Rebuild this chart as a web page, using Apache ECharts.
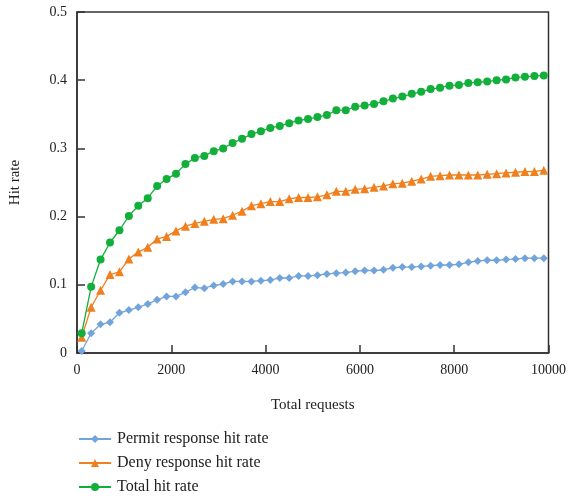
<!DOCTYPE html>
<html>
<head>
<meta charset="utf-8">
<script src="https://cdn.jsdelivr.net/npm/echarts@6/dist/echarts.min.js"></script>
<style>
  html, body { margin: 0; padding: 0; background: #fff; }
  #chart { width: 569px; height: 496px; }
</style>
</head>
<body>
<div id="chart"></div>
<script>
// 请求数（横轴）
var requests = [100, 300, 500, 700, 900, 1100, 1300, 1500, 1700, 1900,
  2100, 2300, 2500, 2700, 2900, 3100, 3300, 3500, 3700, 3900,
  4100, 4300, 4500, 4700, 4900, 5100, 5300, 5500, 5700, 5900,
  6100, 6300, 6500, 6700, 6900, 7100, 7300, 7500, 7700, 7900,
  8100, 8300, 8500, 8700, 8900, 9100, 9300, 9500, 9700, 9900];

var permitRate = [0.003, 0.029, 0.042, 0.045, 0.059, 0.063, 0.067, 0.072, 0.078, 0.083,
  0.083, 0.089, 0.096, 0.095, 0.099, 0.101, 0.105, 0.105, 0.105, 0.106,
  0.107, 0.110, 0.110, 0.113, 0.113, 0.114, 0.116, 0.117, 0.118, 0.120,
  0.121, 0.121, 0.122, 0.125, 0.126, 0.126, 0.127, 0.128, 0.129, 0.129,
  0.130, 0.133, 0.135, 0.136, 0.136, 0.137, 0.138, 0.139, 0.139, 0.139];

var denyRate = [0.023, 0.067, 0.092, 0.115, 0.119, 0.138, 0.148, 0.155, 0.167, 0.171,
  0.179, 0.186, 0.190, 0.193, 0.196, 0.197, 0.202, 0.208, 0.216, 0.219,
  0.222, 0.222, 0.226, 0.228, 0.228, 0.229, 0.232, 0.237, 0.237, 0.240,
  0.241, 0.243, 0.245, 0.248, 0.249, 0.252, 0.255, 0.259, 0.260, 0.261,
  0.261, 0.261, 0.261, 0.262, 0.263, 0.264, 0.265, 0.266, 0.266, 0.268];

var totalRate = [0.029, 0.097, 0.137, 0.162, 0.180, 0.201, 0.216, 0.227, 0.245, 0.255,
  0.263, 0.277, 0.286, 0.289, 0.296, 0.300, 0.308, 0.314, 0.321, 0.325,
  0.330, 0.333, 0.337, 0.341, 0.343, 0.346, 0.349, 0.356, 0.356, 0.361,
  0.363, 0.365, 0.369, 0.373, 0.376, 0.380, 0.383, 0.387, 0.389, 0.392,
  0.393, 0.396, 0.397, 0.398, 0.400, 0.401, 0.404, 0.405, 0.406, 0.407];

var seriesNames = ['Permit response hit rate', 'Deny response hit rate', 'Total hit rate'];

function pairs(ys) {
  return requests.map(function (x, i) { return [x, ys[i]]; });
}

var font = '"Liberation Serif", "DejaVu Serif", serif';
var axisColor = '#333';

var myChart = echarts.init(document.getElementById('chart'));

var option = {
  animation: false,
  textStyle: { fontFamily: font },
  grid: {
    left: 77, right: 12, top: 12, bottom: 143,
    show: true, borderColor: axisColor, borderWidth: 1.5
  },
  legend: {
    orient: 'vertical',
    left: 78,
    top: 431,
    padding: 0,
    itemWidth: 32,
    itemHeight: 10,
    itemGap: 8,
    textStyle: { fontFamily: font, fontSize: 16, color: '#222', padding: [0, 0, 0, 1] },
    data: seriesNames
  },
  xAxis: {
    type: 'value',
    min: 0, max: 10000, interval: 2000,
    name: 'Total requests',
    nameLocation: 'middle',
    nameGap: 45,
    nameTextStyle: { fontFamily: font, fontSize: 15, color: '#222' },
    axisLine: { lineStyle: { color: axisColor, width: 1.5 } },
    axisTick: { inside: true, length: 8, lineStyle: { color: axisColor, width: 1.5 } },
    axisLabel: {
      fontFamily: font, fontSize: 14, color: '#222', margin: 10,
      formatter: function (v) { return String(v); }
    },
    splitLine: { show: false }
  },
  yAxis: {
    type: 'value',
    min: 0, max: 0.5, interval: 0.1,
    name: 'Hit rate',
    nameLocation: 'middle',
    nameGap: 54,
    nameTextStyle: { fontFamily: font, fontSize: 15, color: '#222' },
    axisLine: { show: true, lineStyle: { color: axisColor, width: 1.5 } },
    axisTick: { show: true, inside: true, length: 8, lineStyle: { color: axisColor, width: 1.5 } },
    axisLabel: { fontFamily: font, fontSize: 14, color: '#222', margin: 10 },
    splitLine: { show: false }
  },
  series: [
    {
      name: seriesNames[0],
      type: 'line',
      data: pairs(permitRate),
      symbol: 'diamond',
      symbolSize: 8,
      color: '#72a4dc',
      lineStyle: { width: 1.3 },
      z: 3
    },
    {
      name: seriesNames[1],
      type: 'line',
      data: pairs(denyRate),
      symbol: 'triangle',
      symbolSize: 9,
      color: '#f07f1e',
      lineStyle: { width: 1.3 },
      z: 2
    },
    {
      name: seriesNames[2],
      type: 'line',
      data: pairs(totalRate),
      symbol: 'circle',
      symbolSize: 8,
      color: '#12b03a',
      lineStyle: { width: 1.3 },
      z: 4
    }
  ]
};

myChart.setOption(option);
</script>
</body>
</html>
